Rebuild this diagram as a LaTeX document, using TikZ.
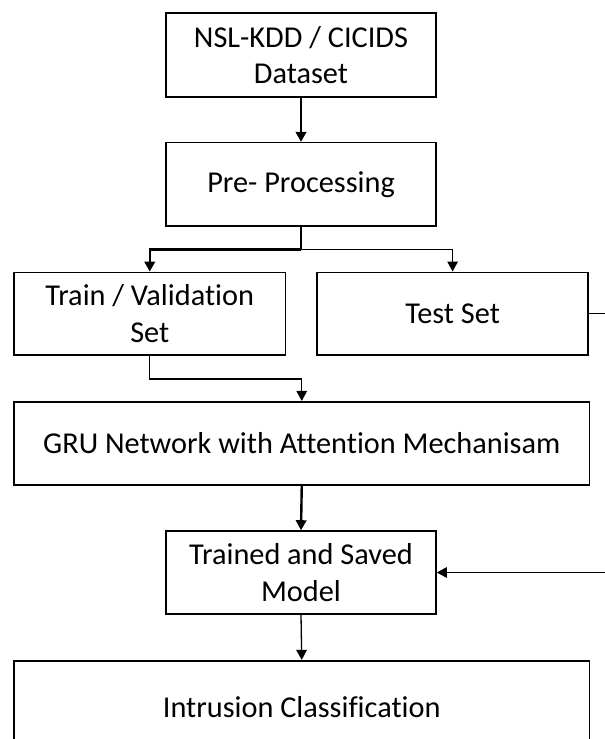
\documentclass[tikz,border=0pt]{standalone}
\usepackage{fontspec}
\setmainfont[Ligatures=NoCommon]{Carlito}
\usetikzlibrary{arrows.meta}

\tikzset{
  box/.style={draw=black, line width=1.6pt, rectangle, align=center,
    inner sep=0pt, font=\fontsize{30.3}{36.7}\selectfont},
  tip/.style={-{Triangle[length=10pt,width=10.5pt]}},
  heavy/.style={line width=2.4pt, tip},
  light/.style={line width=1.3pt, tip},
  heavyline/.style={line width=2.4pt},
}

\begin{document}
\begin{tikzpicture}[x=1pt, y=-1pt]
  \useasboundingbox (0,0) rectangle (605,739);

  % process boxes
  \node[box, minimum width=270pt, minimum height=84pt]    (nsl)     at (301,55)      {NSL-KDD / CICIDS\\Dataset};
  \node[box, minimum width=270pt, minimum height=83.3pt]  (pre)     at (301,184.3)   {Pre- Processing};
  \node[box, minimum width=271.5pt, minimum height=82.7pt] (train)  at (149.75,313.7) {Train / Validation\\Set};
  \node[box, minimum width=271.3pt, minimum height=82.7pt] (test)   at (452.6,313.7) {Test Set};
  \node[box, minimum width=575.5pt, minimum height=83.3pt] (gru)    at (301.75,443.4) {GRU Network with Attention Mechanisam};
  \node[box, minimum width=270pt, minimum height=83pt]    (trained) at (301,572.5)   {Trained and Saved\\Model};
  \node[box, minimum width=575.5pt, minimum height=93pt]  (intr)    at (301.75,707.2) {Intrusion Classification};

  % split point below pre-processing
  \coordinate (split) at (301,249.5);

  % connectors
  \draw[heavy] (nsl.south) -- (pre.north);
  \draw[heavyline] (pre.south) -- (split);
  \draw[heavy] (split) -| (train.north);
  \draw[light] (split) -| (test.north);
  \draw[light] (train.south) -- ++(0,23) -| (gru.north);
  \draw[heavy] (gru.south) -- (trained.north);
  \draw[light] (test.east) -- ++(20,0) |- (trained.east);
  \draw[light] (trained.south) -- (intr.north);
\end{tikzpicture}
\end{document}
